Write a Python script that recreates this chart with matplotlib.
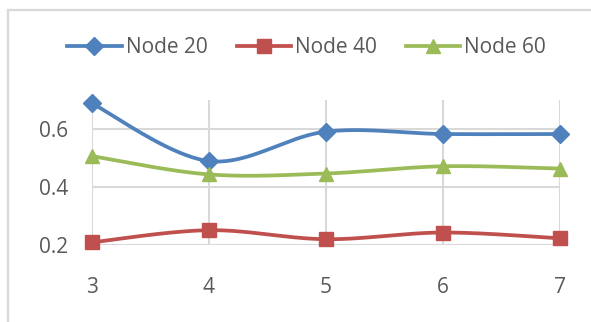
import numpy as np
import matplotlib.pyplot as plt
from matplotlib.lines import Line2D

plt.rcParams['font.family'] = ['Open Sans', 'DejaVu Sans']

# data
x_vals = [3, 4, 5, 6, 7]
node20 = [0.689, 0.490, 0.591, 0.583, 0.583]
node40 = [0.210, 0.252, 0.221, 0.244, 0.224]
node60 = [0.507, 0.444, 0.447, 0.472, 0.464]
labels = ['Node 20', 'Node 40', 'Node 60']

colors = ['#4F81BD', '#C0504D', '#9BBB59']
markers = ['D', 's', '^']
msizes = [9, 9.5, 10]
text_color = '#595959'
grid_color = '#D9D9D9'


def smooth(xs, ys, n=40):
    # Excel style smoothed line: cubic Bezier between points
    p = np.column_stack([xs, ys]).astype(float)
    p_ext = np.vstack([p[0], p, p[-1]])
    t = np.linspace(0, 1, n)[:, None]
    out = []
    for i in range(len(p) - 1):
        p0, p1, p2, p3 = p_ext[i], p_ext[i + 1], p_ext[i + 2], p_ext[i + 3]
        c1 = p1 + (p2 - p0) / 6
        c2 = p2 - (p3 - p1) / 6
        seg = ((1 - t) ** 3) * p1 + 3 * ((1 - t) ** 2) * t * c1 \
            + 3 * (1 - t) * t ** 2 * c2 + t ** 3 * p2
        out.append(seg)
    out = np.vstack(out)
    return out[:, 0], out[:, 1]


fig = plt.figure(figsize=(5.91, 3.22), dpi=100)
ax = fig.add_axes([0.155, 0.2382, 0.7924, 0.4512])

for ys, c, m, ms, lab in zip([node20, node40, node60], colors, markers, msizes, labels):
    sx, sy = smooth(x_vals, ys)
    ax.plot(sx, sy, color=c, lw=2.7, solid_capstyle='round', zorder=3)
    ax.plot(x_vals, ys, ls='none', marker=m, ms=ms, color=c, zorder=4, clip_on=False)

ax.set_xlim(3, 7)
ax.set_ylim(0.2, 0.7)
ax.set_xticks(x_vals)
ax.set_yticks([0.2, 0.4, 0.6])
ax.set_yticklabels(['0.2', '0.4', '0.6'])
ax.grid(True, color=grid_color, lw=1.5)
ax.set_axisbelow(True)
for s in ax.spines.values():
    s.set_visible(False)
ax.tick_params(length=0, labelsize=15, labelcolor=text_color)
ax.tick_params(axis='x', pad=23)
ax.tick_params(axis='y', pad=17)

# legend
handles = [Line2D([], [], color=c, lw=2.7, marker=m, ms=ms)
           for c, m, ms in zip(colors, markers, msizes)]
fig.legend(handles, labels, loc='center', bbox_to_anchor=(0.519, 0.852), ncol=3,
           frameon=False, fontsize=15, labelcolor=text_color,
           handlelength=2.6, handletextpad=0.2, columnspacing=1.4)

# chart border (top and left edges)
fig.add_artist(Line2D([8 / 591, 8 / 591], [0, 1 - 10 / 322], transform=fig.transFigure,
                      color=grid_color, lw=1.6))
fig.add_artist(Line2D([8 / 591, 1], [1 - 10 / 322, 1 - 10 / 322], transform=fig.transFigure,
                      color=grid_color, lw=1.6))

fig.savefig('out.png', dpi=100)
